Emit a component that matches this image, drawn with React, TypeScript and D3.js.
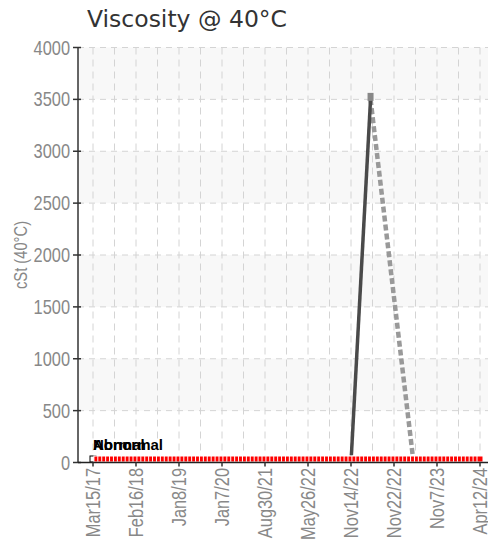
import * as d3 from 'd3'

// sample index -> label shown on x axis (every 11th sample)
const tickIndexes = [0, 11, 22, 33, 44, 55, 66, 77, 88, 99]
const tickLabels = ['Mar15/17', 'Feb16/18', 'Jan8/19', 'Jan7/20', 'Aug30/21', 'May26/22', 'Nov14/22', 'Nov22/22', 'Nov7/23', 'Apr12/24']

// status flag values of every sample (0 cSt baseline markers)
const baselineValues = [
  0, 0, 0, 0, 0, 0, 0, 0, 0, 0, 0, 0, 0, 0, 0, 0, 0, 0, 0, 0,
  0, 0, 0, 0, 0, 0, 0, 0, 0, 0, 0, 0, 0, 0, 0, 0, 0, 0, 0, 0,
  0, 0, 0, 0, 0, 0, 0, 0, 0, 0, 0, 0, 0, 0, 0, 0, 0, 0, 0, 0,
  0, 0, 0, 0, 0, 0, 0, 0, 0, 0, 0, 0, 0, 0, 0, 0, 0, 0, 0, 0,
  0, 0, 0, 0, 0, 0, 0, 0, 0, 0, 0, 0, 0, 0, 0, 0, 0, 0, 0, 0,
]
// first sample is normal, the rest abnormal
const normalIndexes = [0]

// measured viscosity
const solidIdx = [66, 71]
const solidVal = [0, 3500]
const dashedIdx = [71, 82]
const dashedVal = [3500, 0]

const yTicks = [0, 500, 1000, 1500, 2000, 2500, 3000, 3500, 4000]
const bands = [500, 1500, 2500, 3500]

const W = 488
const H = 545
const left = 78
const right = 488
const top = 47.5
const bottom = 462.5

// no narrow font installed, squeeze Liberation Sans instead
const tickFont = '"Liberation Sans", Arial, sans-serif'
const NARROW = 0.82

export default function App() {
  const x = d3.scaleLinear().domain([0, baselineValues.length - 1]).range([93, 480])
  const y = d3.scaleLinear().domain([0, 4000]).range([bottom, top])

  const line = d3.line<[number, number]>().x(d => x(d[0])).y(d => y(d[1]))
  const solid = solidIdx.map((d, i) => [d, solidVal[i]] as [number, number])
  const dashed = dashedIdx.map((d, i) => [d, dashedVal[i]] as [number, number])

  // grid every half tick interval
  const step = (tickIndexes[1] - tickIndexes[0]) / 2
  const vGrid = d3.range(0, baselineValues.length - 1 + 0.01, step)

  return (
    <svg width={W} height={H} style={{ position: 'absolute', left: 0, top: 0, background: '#fff' }}>
      {bands.map(b => (
        <rect key={b} x={left} width={right - left} y={y(b + 500)} height={y(b) - y(b + 500)} fill="#f8f8f8" />
      ))}
      {yTicks.slice(1).map(t => (
        <line key={t} x1={left} x2={right} y1={y(t)} y2={y(t)} stroke="#d4d4d4" strokeDasharray="6,5" />
      ))}
      {vGrid.map(g => (
        <line key={g} x1={x(g)} x2={x(g)} y1={top} y2={bottom} stroke="#d4d4d4" strokeDasharray="7,5" />
      ))}

      <text x={87} y={27} fontFamily='"DejaVu Sans", sans-serif' fontSize={23.5} fill="#333">Viscosity @ 40°C</text>

      <path d={line(dashed) ?? ''} fill="none" stroke="#999" strokeWidth={4.5} strokeDasharray="6,3" />
      <path d={line(solid) ?? ''} fill="none" stroke="#4a4a4a" strokeWidth={3.5} />

      {baselineValues.map((v, i) => (
        <rect key={i} x={x(i) - 3} y={y(v) - 6.5} width={6} height={6}
          fill={normalIndexes.includes(i) ? '#fff' : '#ff0000'}
          stroke={normalIndexes.includes(i) ? '#000' : '#fff'} strokeWidth={1} />
      ))}
      <rect x={x(solidIdx[1]) - 3} y={y(solidVal[1]) - 6.5} width={6} height={8} fill="#888" />

      <text x={93} y={450} fontFamily='"Liberation Sans", Arial, sans-serif' fontWeight="bold" fontSize={15} fill="#000">Abnormal</text>
      <text x={93} y={450} fontFamily='"Liberation Sans", Arial, sans-serif' fontWeight="bold" fontSize={15} fill="#000">Normal</text>

      {/* y axis */}
      <line x1={left} x2={left} y1={top} y2={bottom} stroke="#333" strokeWidth={1.5} />
      {yTicks.map(t => (
        <g key={t}>
          <line x1={left - 5} x2={left + 3} y1={y(t)} y2={y(t)} stroke="#333" strokeWidth={1.5} />
          <text transform={`translate(70,${y(t)}) scale(${NARROW},1)`} dy="0.35em" textAnchor="end" fontFamily={tickFont} fontSize={20} fill="#888">{t}</text>
        </g>
      ))}
      <text transform={`translate(21,255) rotate(-90) scale(${NARROW},1)`} textAnchor="middle" dy="0.35em" fontFamily={tickFont} fontSize={18} fill="#888">cSt (40°C)</text>

      {/* x axis */}
      <line x1={left} x2={right} y1={bottom} y2={bottom} stroke="#222" strokeWidth={1.5} />
      {tickIndexes.map((t, i) => (
        <g key={t}>
          <line x1={x(t)} x2={x(t)} y1={bottom} y2={bottom + 4} stroke="#333" strokeWidth={1.5} />
          <text transform={`translate(${x(t)},468) rotate(-90) scale(${NARROW},1)`} textAnchor="end" dy="0.35em" fontFamily={tickFont} fontSize={20} fill="#888">{tickLabels[i]}</text>
        </g>
      ))}
    </svg>
  )
}
